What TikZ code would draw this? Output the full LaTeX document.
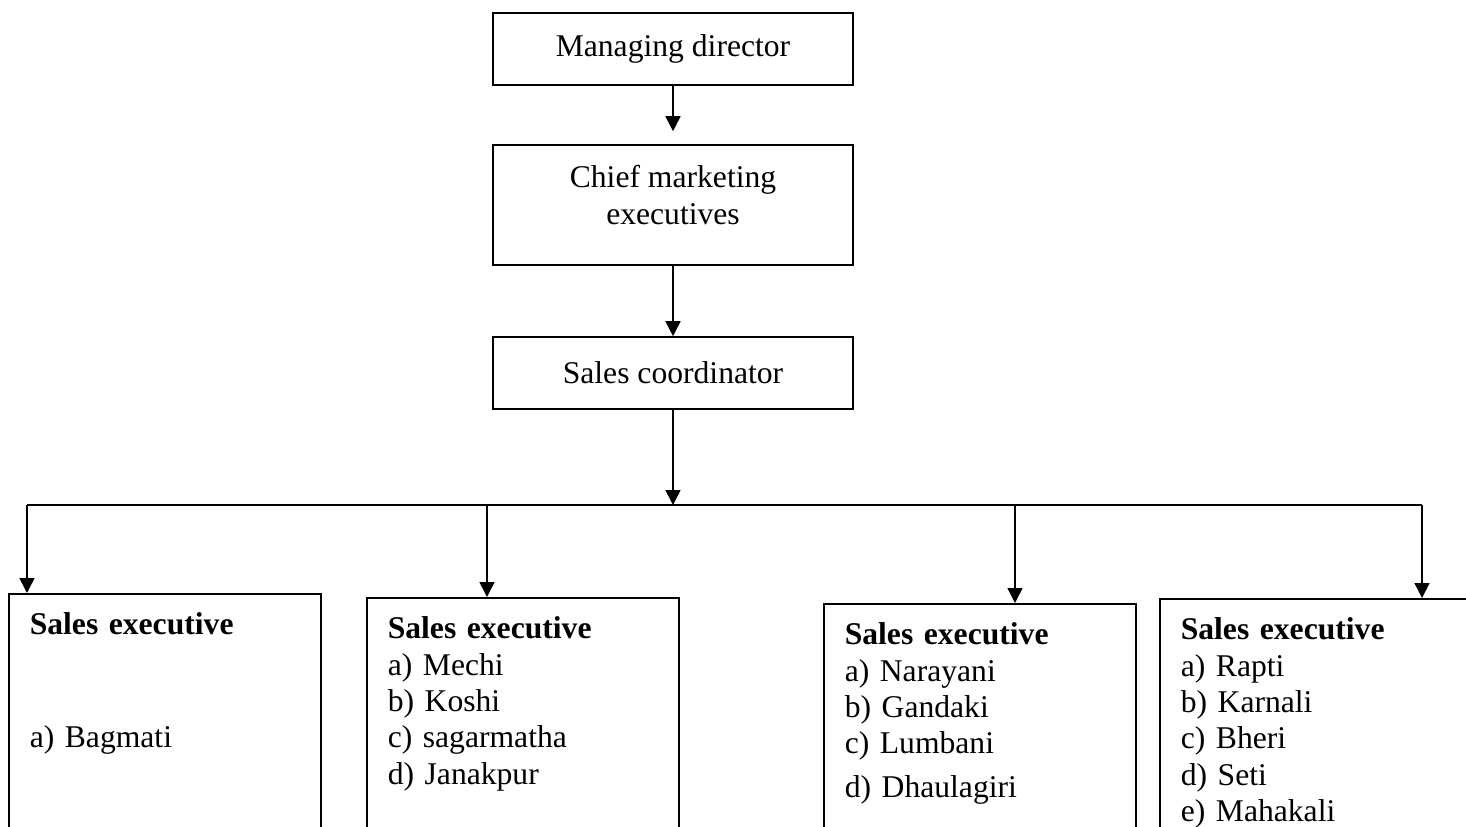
\documentclass[tikz,border=0pt]{standalone}
\usepackage{fontspec}
\setmainfont{Liberation Serif}
\usetikzlibrary{positioning,arrows.meta}

\begin{document}
\begin{tikzpicture}[
  x=0.02cm, y=-0.02cm,
  line width=0.9pt,
  font=\fontsize{18}{20.7}\selectfont,
  box/.style={draw, inner sep=0pt, minimum width=7.2cm, align=center},
  sebox/.style={draw, anchor=north west, inner xsep=0.42cm, inner ysep=0.38cm,
                text width=5.4cm, align=left, text depth=6cm},
  arr/.style={-{Triangle[length=3mm, width=3mm]}},
]
\useasboundingbox (0,0) rectangle (1466,827);
\clip (0,0) rectangle (1466,827);

% ---------- chain of command ----------
\node[box, minimum height=1.44cm] (md) at (673,49) {Managing director};
\node[box, minimum height=2.4cm, text depth=0.4cm] (cme) at (673,205)
  {Chief marketing\\executives};
\node[box, minimum height=1.44cm] (sc) at (673,373) {Sales coordinator};

\draw[arr, shorten >=0.26cm] (md) -- (cme);
\draw[arr] (cme) -- (sc);

% ---------- regional sales executives ----------
\node[sebox] (se1) at (8,593)
  {\textbf{Sales executive}\\[1.53cm]
   a) Bagmati};
\node[sebox] (se2) at (366,597)
  {\textbf{Sales executive}\\
   a) Mechi\\
   b) Koshi\\
   c) sagarmatha\\
   d) Janakpur};
\node[sebox] (se3) at (823,603)
  {\textbf{Sales executive}\\
   a) Narayani\\
   b) Gandaki\\
   c) Lumbani\\[4pt]
   d) Dhaulagiri};
\node[sebox] (se4) at (1159,598)
  {\textbf{Sales executive}\\
   a) Rapti\\
   b) Karnali\\
   c) Bheri\\
   d) Seti\\
   e) Mahakali};

% ---------- distribution bus ----------
\coordinate (bus) at (673,505);
\coordinate (d1) at (27,505);
\coordinate (d2) at (487,505);
\coordinate (d3) at (1015,505);
\coordinate (d4) at (1422,505);

\draw[arr] (sc) -- (bus);
\draw (d1) -- (d4);
\foreach \i in {1,...,4}
  \draw[arr] (d\i) -- (d\i |- se\i.north);

\end{tikzpicture}
\end{document}
